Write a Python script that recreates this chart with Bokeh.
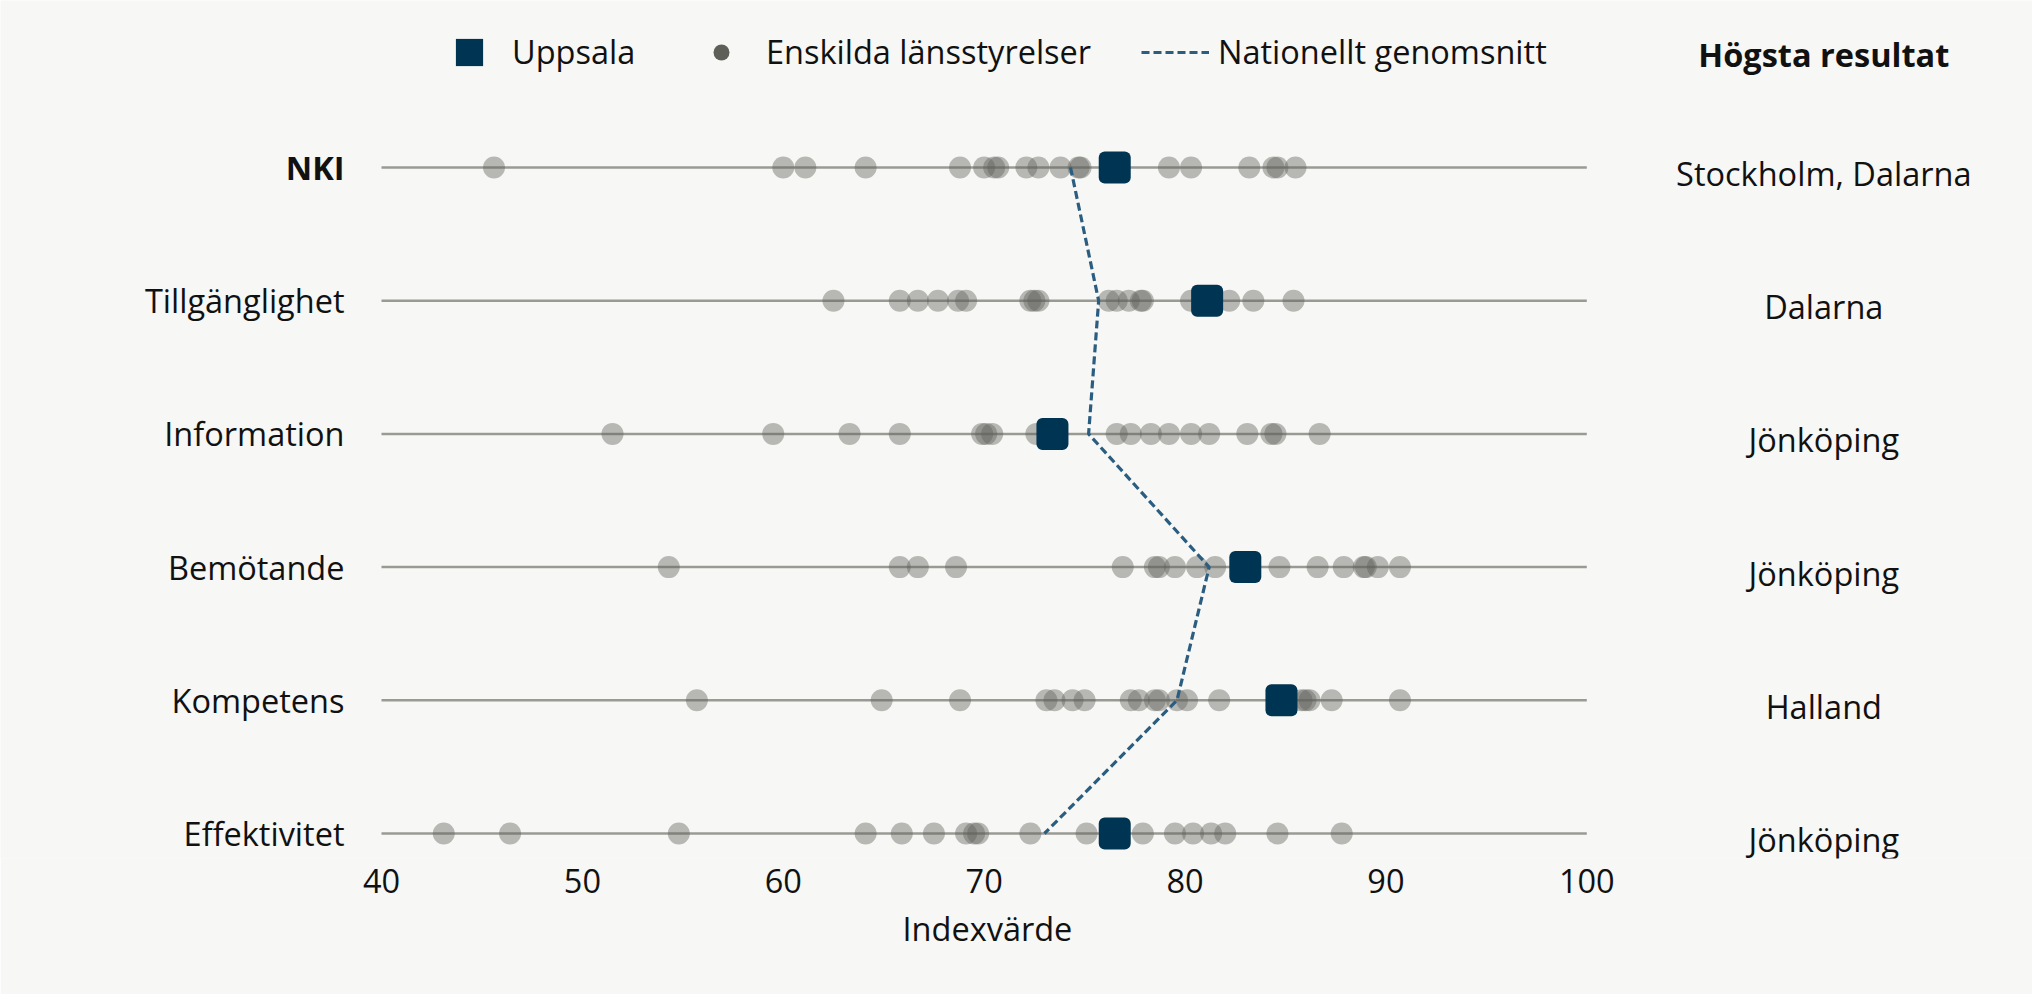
from bokeh.plotting import figure
from bokeh.models import (ColumnDataSource, Range1d, FixedTicker, LabelSet, Label,
                          Legend, LegendItem, Title)
from bokeh.core.properties import value
from bokeh.embed import file_html
from bokeh.resources import INLINE

# ---------------- data ----------------
categories = ["NKI", "Tillgänglighet", "Information", "Bemötande", "Kompetens", "Effektivitet"]
category_style = ["bold", "normal", "normal", "normal", "normal", "normal"]

uppsala = [76.5, 81.1, 73.4, 83.0, 84.8, 76.5]
national = [74.3, 75.7, 75.2, 81.2, 79.6, 73.0]
top_result = ["Stockholm, Dalarna", "Dalarna", "Jönköping", "Jönköping", "Halland", "Jönköping"]

county_nki = [45.6, 60.0, 61.1, 64.1, 68.8, 70.0, 70.5, 70.7, 72.1, 72.7, 73.8, 74.7, 74.8,
              76.5, 79.2, 80.3, 83.2, 84.4, 84.6, 85.5]
county_tillg = [62.5, 65.8, 66.7, 67.7, 68.7, 69.1, 72.3, 72.5, 72.7, 76.2, 76.6, 77.2, 77.8,
                77.9, 80.3, 81.1, 82.2, 83.4, 85.4]
county_info = [51.5, 59.5, 63.3, 65.8, 69.9, 70.1, 70.4, 72.6, 73.4, 76.6, 77.3, 78.3, 79.2,
               80.3, 81.2, 83.1, 84.3, 84.5, 86.7]
county_bem = [54.3, 65.8, 66.7, 68.6, 76.9, 78.5, 78.7, 79.5, 80.6, 81.5, 83.0, 84.7, 86.6,
              87.9, 88.9, 89.0, 89.6, 90.7]
county_komp = [55.7, 64.9, 68.8, 73.1, 73.5, 74.4, 75.0, 77.3, 77.7, 78.5, 78.7, 79.6, 80.1,
               81.7, 84.8, 85.8, 86.0, 86.2, 87.3, 90.7]
county_eff = [43.1, 46.4, 54.8, 64.1, 65.9, 67.5, 69.1, 69.5, 69.7, 72.3, 75.1, 76.5, 77.9,
              79.5, 80.4, 81.3, 82.0, 84.6, 87.8]
county_values = [county_nki, county_tillg, county_info, county_bem, county_komp, county_eff]

x_ticks = [40, 50, 60, 70, 80, 90, 100]
x_title = "Indexvärde"
legend_labels = ["Uppsala", "Enskilda länsstyrelser", "Nationellt genomsnitt"]
right_header = "Högsta resultat"

# ---------------- style / layout ----------------
FONT = "Open Sans"
FS = "32.5px"
BG = "#f7f7f5"
TXT = "#111111"
NAVY = "#003453"
DASH = "#2b5d80"
DOT = "#5f5f5a"
ROWLINE = "#9a9a95"

W, H = 2032, 994
AX_LEFT_PX, AX_RIGHT_PX = 381.0, 1586.3      # pixel positions of first / last tick
ROW_TOP_PX, ROW_BOT_PX = 167.0, 833.0         # pixel positions of first / last row
FRAME_BOT_PX = 858.0
XTITLE_LEFT_PX = 902

n = len(categories)
row_y = [n - 1 - i for i in range(n)]

ppu_x = (AX_RIGHT_PX - AX_LEFT_PX) / (x_ticks[-1] - x_ticks[0])
ppu_y = (ROW_BOT_PX - ROW_TOP_PX) / (n - 1)
x_start = x_ticks[0] - AX_LEFT_PX / ppu_x
x_end = x_ticks[-1] + (W - AX_RIGHT_PX) / ppu_x
y_end = (n - 1) + ROW_TOP_PX / ppu_y
y_start = -(FRAME_BOT_PX - ROW_BOT_PX) / ppu_y

dot_x, dot_y = [], []
for i, vals in enumerate(county_values):
    dot_x += vals
    dot_y += [row_y[i]] * len(vals)

p = figure(width=W, height=H, output_backend="svg", toolbar_location=None,
           x_range=Range1d(x_start, x_end), y_range=Range1d(y_start, y_end),
           min_border_left=0, min_border_right=0, min_border_top=0,
           min_border_bottom=int(H - FRAME_BOT_PX))
p.background_fill_color = BG
p.border_fill_color = BG
p.outline_line_color = None
p.grid.visible = False
p.yaxis.visible = False

ax = p.xaxis[0]
ax.ticker = FixedTicker(ticks=x_ticks)
ax.bounds = (x_ticks[0], x_ticks[-1])
ax.axis_line_color = None
ax.major_tick_line_color = None
ax.minor_tick_line_color = None
ax.major_tick_out = 0
ax.major_label_standoff = 10
ax.major_label_text_font = FONT
ax.major_label_text_font_size = FS
ax.major_label_text_color = TXT

# x-axis title, centred under the 40-100 span
p.add_layout(Title(text=x_title, align="left", offset=XTITLE_LEFT_PX, standoff=16,
                   text_font=FONT, text_font_size=FS, text_font_style="normal",
                   text_color=TXT), "below")

# row lines
p.segment(x0=[x_ticks[0]] * n, x1=[x_ticks[-1]] * n, y0=row_y, y1=row_y,
          line_color=ROWLINE, line_width=2.5)

# county dots
p.scatter(x=dot_x, y=dot_y, size=22, marker="circle", fill_color=DOT, fill_alpha=0.42,
          line_color=None)

# national average
r_nat = p.line(x=national, y=row_y, line_color=DASH, line_width=3.2, line_dash="8 4")

# Uppsala's own county dot at full opacity (hidden under the square) - used for the legend
r_dot_leg = p.scatter(x=uppsala[:1], y=row_y[:1], size=22, marker="circle",
                      fill_color=DOT, line_color=None)

# Uppsala
try:
    r_upp = p.rect(x=uppsala, y=row_y, width=32, height=32, width_units="screen",
                   height_units="screen", fill_color=NAVY, line_color=None, border_radius=6)
except Exception:
    r_upp = p.rect(x=uppsala, y=row_y, width=32, height=32, width_units="screen",
                   height_units="screen", fill_color=NAVY, line_color=None)


def add_legend(label, renderer, gw, gh, standoff, loc):
    lg = Legend(items=[LegendItem(label=label, renderers=[renderer])], location=loc,
                orientation="horizontal", glyph_width=gw, glyph_height=gh,
                label_standoff=standoff, padding=0, margin=0, spacing=0,
                border_line_color=None, background_fill_alpha=0,
                label_text_font=FONT, label_text_font_size=FS, label_text_color=TXT)
    p.add_layout(lg)


add_legend(legend_labels[0], r_upp, 34, 34, 26, (452, 784))
add_legend(legend_labels[1], r_dot_leg, 40, 40, 25, (701, 784))
add_legend(legend_labels[2], r_nat, 68, 34, 9, (1141, 784))

# category labels (left)
cat_src = ColumnDataSource(dict(y=row_y, text=categories, style=category_style))
p.add_layout(LabelSet(x=x_ticks[0], y="y", text="text", source=cat_src, x_offset=-37,
                      text_align="right", text_baseline="middle", text_font=value(FONT),
                      text_font_size=FS, text_color=TXT, text_font_style="style"))

# right column
res_src = ColumnDataSource(dict(y=row_y, text=top_result))
p.add_layout(LabelSet(x=x_ticks[-1], y="y", text="text", source=res_src, x_offset=237,
                      y_offset=-6, text_align="center", text_baseline="middle",
                      text_font=value(FONT), text_font_size=FS, text_color=TXT))
p.add_layout(Label(x=x_ticks[-1], y=row_y[0], x_offset=237, y_offset=113, text=right_header,
                   text_align="center", text_baseline="middle", text_font=FONT,
                   text_font_size=FS, text_font_style="bold", text_color=TXT))

open("out.html", "w").write(file_html(p, INLINE))
